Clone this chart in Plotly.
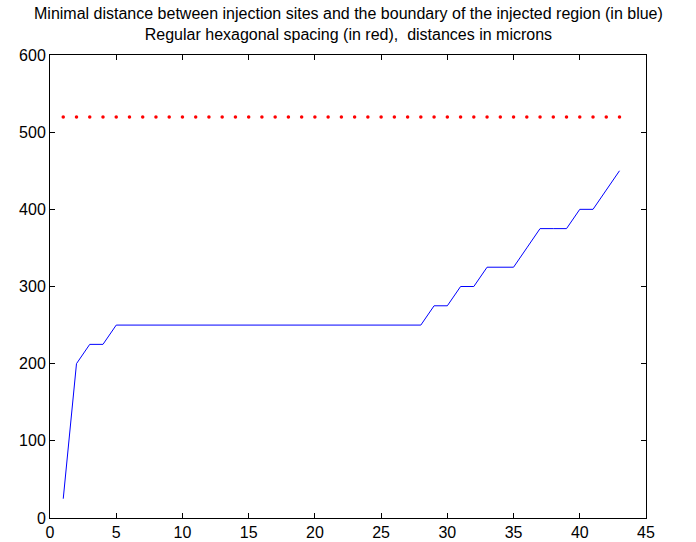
import plotly.graph_objects as go

x_sites = list(range(1, 44))
min_dist = [25, 200, 225, 225, 250, 250, 250, 250, 250, 250,
            250, 250, 250, 250, 250, 250, 250, 250, 250, 250,
            250, 250, 250, 250, 250, 250, 250, 250, 275, 275,
            300, 300, 325, 325, 325, 350, 375, 375, 375, 400,
            400, 425, 450]
hex_spacing = [519.6] * len(x_sites)

title_lines = ["Minimal distance between injection sites and the boundary of the injected region (in blue)",
               "Regular hexagonal spacing (in red),  distances in microns"]
x_ticks = [0, 5, 10, 15, 20, 25, 30, 35, 40, 45]
y_ticks = [0, 100, 200, 300, 400, 500, 600]

FONT = "Liberation Sans, Arial, Helvetica"

fig = go.Figure()
fig.add_trace(go.Scatter(x=x_sites, y=min_dist, mode="lines",
                         line=dict(color="blue", width=1), showlegend=False))
fig.add_trace(go.Scatter(x=x_sites, y=hex_spacing, mode="markers",
                         marker=dict(color="red", size=3.5, line=dict(width=0)),
                         showlegend=False))

axis_common = dict(showgrid=False, zeroline=False, showline=True, linecolor="black",
                   linewidth=1, mirror="ticks", ticks="inside", ticklen=5,
                   tickcolor="black", automargin=False,
                   tickfont=dict(family=FONT, size=16, color="black"))

fig.update_xaxes(range=[0, 45], tickvals=x_ticks, **axis_common)
fig.update_yaxes(range=[0, 600], tickvals=y_ticks, **axis_common)

H_PLOT = 542 - 55 - 24
fig.add_annotation(text="<br>".join(title_lines), xref="paper", yref="paper",
                   x=0.5, y=1 + (55 - 23.5) / H_PLOT,
                   xanchor="center", yanchor="middle", showarrow=False,
                   font=dict(family=FONT, size=16, color="black"))

fig.update_layout(
    width=696, height=542,
    margin=dict(l=50, r=50, t=55, b=24),
    paper_bgcolor="white", plot_bgcolor="white",
)

fig.write_html("out.html")
